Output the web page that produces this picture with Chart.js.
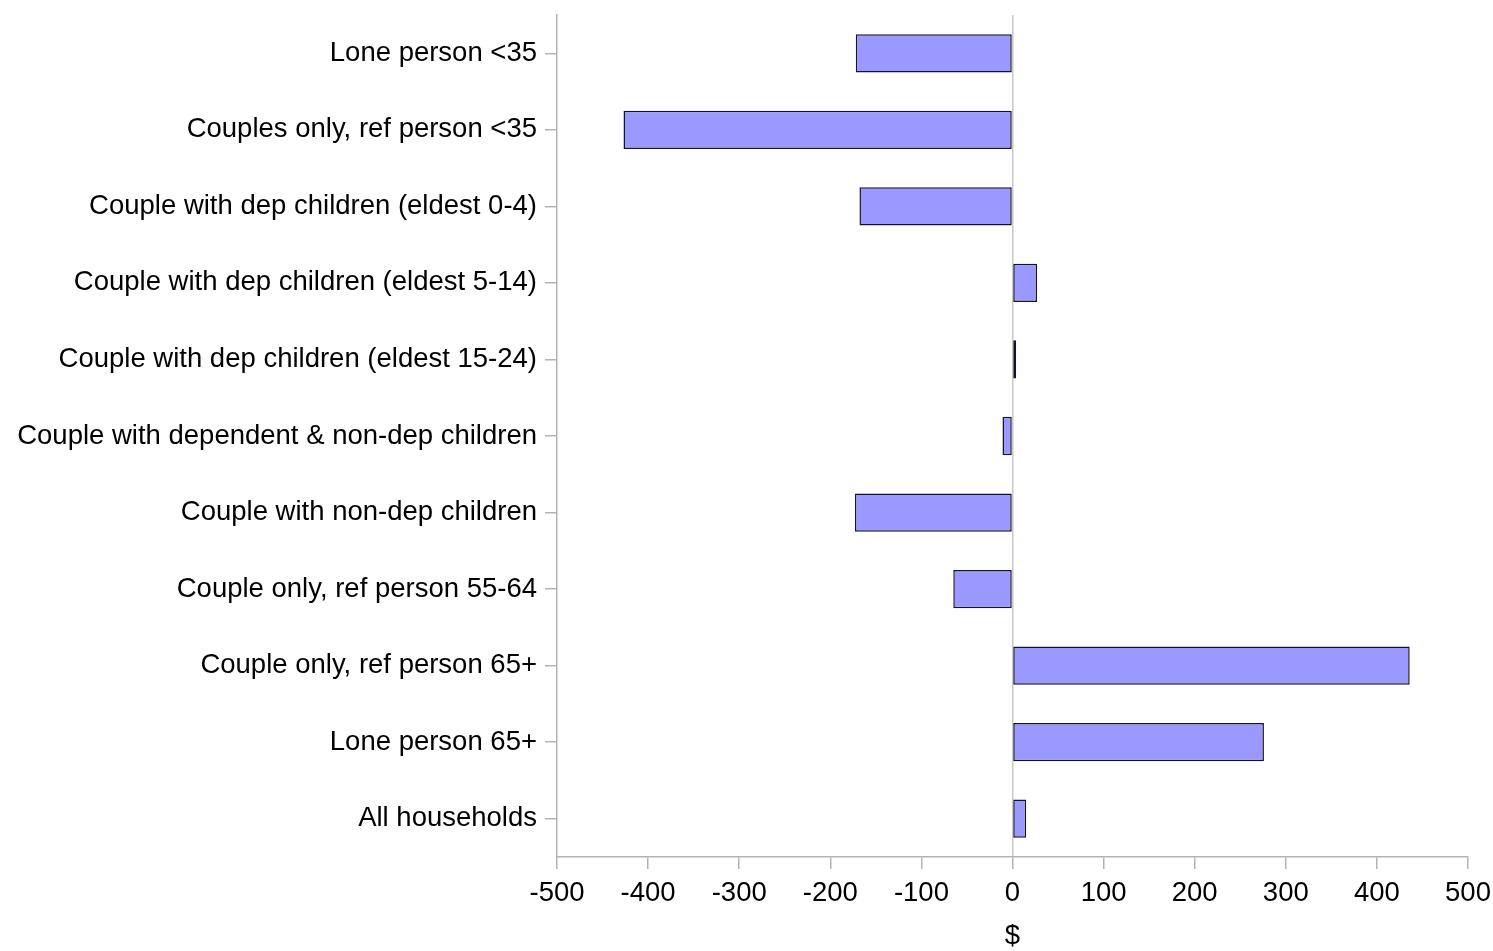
<!DOCTYPE html>
<html>
<head>
<meta charset="utf-8">
<script src="https://cdn.jsdelivr.net/npm/chart.js@4.4.1/dist/chart.umd.min.js"></script>
<style>
html,body{margin:0;padding:0;background:#fff;}
#wrap{width:1493px;height:951px;position:relative;}
</style>
</head>
<body>
<div id="wrap"><canvas id="c" width="1493" height="951"></canvas></div>
<script>
const categories = [
  "Lone person <35",
  "Couples only, ref person <35",
  "Couple with dep children (eldest 0-4)",
  "Couple with dep children (eldest 5-14)",
  "Couple with dep children (eldest 15-24)",
  "Couple with dependent & non-dep children",
  "Couple with non-dep children",
  "Couple only, ref person 55-64",
  "Couple only, ref person 65+",
  "Lone person 65+",
  "All households"
];
const values = [-172, -427, -168, 27, 4, -11, -173, -65, 436, 276, 15];
const xTicks = [-500, -400, -300, -200, -100, 0, 100, 200, 300, 400, 500];
const xTitle = "$";

const font = {family: "'Liberation Sans', Arial, sans-serif", size: 27.5};

new Chart(document.getElementById('c'), {
  type: 'bar',
  data: {
    labels: categories,
    datasets: [{
      data: values,
      backgroundColor: '#9999FF',
      borderColor: '#141428',
      borderWidth: 1.5,
      borderSkipped: false,
      barPercentage: 0.5,
      categoryPercentage: 1.0
    }]
  },
  options: {
    indexAxis: 'y',
    responsive: false,
    animation: false,
    devicePixelRatio: 1,
    layout: {padding: {top: 15, right: 25, left: 0, bottom: 0}},
    plugins: {legend: {display: false}, tooltip: {enabled: false}},
    scales: {
      x: {
        min: -500, max: 500,
        afterBuildTicks: s => { s.ticks = xTicks.map(v => ({value: v})); },
        afterFit: s => { s.height = 94; s.paddingLeft = 0; s.paddingRight = 0; },
        grid: {
          drawOnChartArea: true,
          color: ctx => (ctx.tick && ctx.tick.value === 0) ? '#c8c8c8' : 'rgba(0,0,0,0)',
          tickColor: '#b3b3b3',
          tickLength: 12,
          lineWidth: 1.5
        },
        border: {display: true, color: '#b3b3b3', width: 1.5},
        ticks: {color: '#000', font: font, padding: 8, maxRotation: 0},
        title: {display: true, text: xTitle, color: '#000', font: font, padding: {top: 4, bottom: -2}}
      },
      y: {
        afterFit: s => { s.width = 557; s.paddingTop = 0; s.paddingBottom = 0; },
        grid: {
          drawOnChartArea: false,
          tickColor: '#b3b3b3',
          tickLength: 12,
          offset: false,
          lineWidth: 1.5
        },
        border: {display: true, color: '#b3b3b3', width: 1.5},
        ticks: {color: '#000', font: font, padding: 8, autoSkip: false}
      }
    }
  }
});
</script>
</body>
</html>
